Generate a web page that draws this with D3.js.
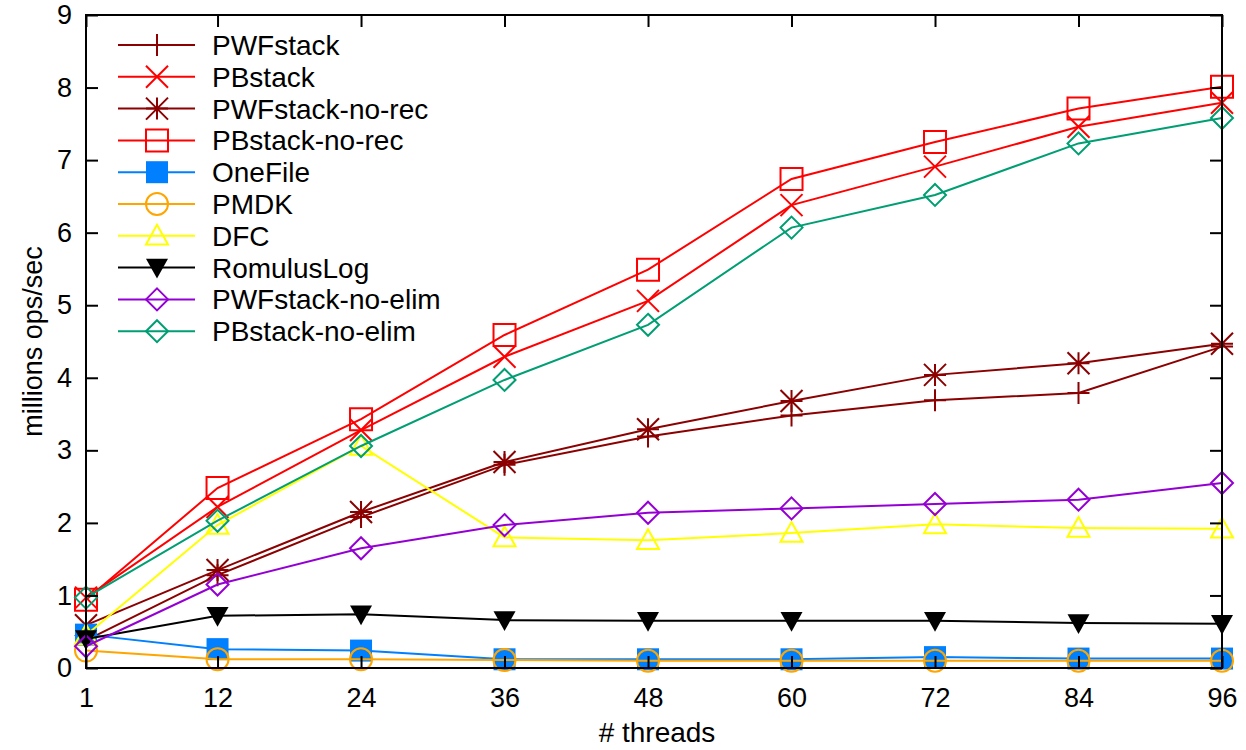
<!DOCTYPE html>
<html>
<head>
<meta charset="utf-8">
<script src="https://cdn.jsdelivr.net/npm/d3@7"></script>
<style>
  body { margin: 0; background: #fff; }
  text { font-family: "Liberation Sans", Arial, sans-serif; fill: #000; }
</style>
</head>
<body>
<svg id="chart" width="1246" height="750"></svg>
<script>
// thread counts on the x axis
const threads = [1, 12, 24, 36, 48, 60, 72, 84, 96];
const yTicks = [0, 1, 2, 3, 4, 5, 6, 7, 8, 9];

// millions ops/sec
const pwfstack       = [0.38, 1.28, 2.08, 2.80, 3.19, 3.48, 3.69, 3.79, 4.43];
const pbstack        = [0.97, 2.22, 3.28, 4.29, 5.06, 6.38, 6.91, 7.46, 7.79];
const pwfstackNoRec  = [0.59, 1.35, 2.15, 2.84, 3.29, 3.68, 4.04, 4.20, 4.47];
const pbstackNoRec   = [0.94, 2.48, 3.43, 4.59, 5.49, 6.74, 7.25, 7.71, 8.01];
const onefile        = [0.46, 0.26, 0.24, 0.12, 0.12, 0.12, 0.15, 0.13, 0.13];
const pmdk           = [0.24, 0.12, 0.12, 0.11, 0.10, 0.10, 0.10, 0.10, 0.10];
const dfc            = [0.45, 1.97, 3.06, 1.80, 1.76, 1.86, 1.98, 1.93, 1.92];
const romuluslog     = [0.40, 0.72, 0.74, 0.66, 0.65, 0.65, 0.65, 0.62, 0.61];
const pwfstackNoElim = [0.30, 1.15, 1.65, 1.97, 2.14, 2.20, 2.26, 2.32, 2.55];
const pbstackNoElim  = [0.97, 2.03, 3.06, 3.97, 4.73, 6.07, 6.52, 7.23, 7.58];

const series = [
  { name: "PWFstack",         values: pwfstack,       color: "#8b0000", mark: "plus" },
  { name: "PBstack",          values: pbstack,        color: "#ff0000", mark: "cross" },
  { name: "PWFstack-no-rec",  values: pwfstackNoRec,  color: "#8b0000", mark: "star" },
  { name: "PBstack-no-rec",   values: pbstackNoRec,   color: "#ff0000", mark: "square" },
  { name: "OneFile",          values: onefile,        color: "#0080ff", mark: "squareFill" },
  { name: "PMDK",             values: pmdk,           color: "#ffa500", mark: "circle" },
  { name: "DFC",              values: dfc,            color: "#ffff00", mark: "triangle" },
  { name: "RomulusLog",       values: romuluslog,     color: "#000000", mark: "triDownFill" },
  { name: "PWFstack-no-elim", values: pwfstackNoElim, color: "#9400d3", mark: "diamond" },
  { name: "PBstack-no-elim",  values: pbstackNoElim,  color: "#009e73", mark: "diamond" }
];

const svg = d3.select("#chart");
const mLeft = 86, mRight = 1222, mTop = 15, mBottom = 668;

const x = d3.scaleLinear().domain([1, 96]).range([mLeft, mRight]);
const y = d3.scaleLinear().domain([0, 9]).range([mBottom, mTop]);

// marker path, centred on 0,0, r = half size
function markPath(type, r) {
  const p = d3.path();
  if (type === "plus") {
    p.moveTo(-r, 0); p.lineTo(r, 0); p.moveTo(0, -r); p.lineTo(0, r);
  } else if (type === "cross") {
    p.moveTo(-r, -r); p.lineTo(r, r); p.moveTo(-r, r); p.lineTo(r, -r);
  } else if (type === "star") {
    p.moveTo(-r, 0); p.lineTo(r, 0); p.moveTo(0, -r); p.lineTo(0, r);
    p.moveTo(-r, -r); p.lineTo(r, r); p.moveTo(-r, r); p.lineTo(r, -r);
  } else if (type === "square" || type === "squareFill") {
    p.rect(-r, -r, 2 * r, 2 * r);
  } else if (type === "circle") {
    p.moveTo(r, 0); p.arc(0, 0, r, 0, 2 * Math.PI);
  } else if (type === "triangle") {
    p.moveTo(0, -r); p.lineTo(r, r * 0.8); p.lineTo(-r, r * 0.8); p.closePath();
  } else if (type === "triDownFill") {
    p.moveTo(0, r); p.lineTo(r, -r * 0.8); p.lineTo(-r, -r * 0.8); p.closePath();
  } else if (type === "diamond") {
    p.moveTo(0, -r); p.lineTo(r, 0); p.lineTo(0, r); p.lineTo(-r, 0); p.closePath();
  }
  return p.toString();
}

function drawMark(g, s, cx, cy) {
  const filled = s.mark === "squareFill" || s.mark === "triDownFill";
  g.append("path")
    .attr("d", markPath(s.mark, 11))
    .attr("transform", `translate(${cx},${cy})`)
    .attr("fill", filled ? s.color : "none")
    .attr("stroke", filled ? "none" : s.color)
    .attr("stroke-width", 2);
}

// series lines + markers
const line = d3.line().x((d, i) => x(threads[i])).y(d => y(d));
const plot = svg.append("g");
series.forEach(s => {
  const g = plot.append("g");
  g.append("path")
    .attr("d", line(s.values))
    .attr("fill", "none")
    .attr("stroke", s.color)
    .attr("stroke-width", 2);
  s.values.forEach((v, i) => drawMark(g, s, x(threads[i]), y(v)));
});

// legend
const leg = svg.append("g");
series.forEach((s, i) => {
  const ly = 45 + i * 31.8;
  leg.append("line")
    .attr("x1", 118).attr("x2", 195).attr("y1", ly).attr("y2", ly)
    .attr("stroke", s.color).attr("stroke-width", 2);
  drawMark(leg, s, 157, ly);
  leg.append("text")
    .attr("x", 212).attr("y", ly + 10)
    .attr("font-size", 28)
    .text(s.name);
});

// axes, ticks pointing inward on all four sides
const tick = 12;
svg.append("g")
  .attr("transform", `translate(0,${mBottom})`)
  .call(d3.axisBottom(x).tickValues(threads).tickSize(-tick).tickPadding(20))
  .call(g => g.select(".domain").remove());
svg.append("g")
  .attr("transform", `translate(0,${mTop})`)
  .call(d3.axisTop(x).tickValues(threads).tickSize(-tick).tickFormat(""))
  .call(g => g.select(".domain").remove());
svg.append("g")
  .attr("transform", `translate(${mLeft},0)`)
  .call(d3.axisLeft(y).tickValues(yTicks).tickSize(-tick).tickPadding(14))
  .call(g => g.select(".domain").remove());
svg.append("g")
  .attr("transform", `translate(${mRight},0)`)
  .call(d3.axisRight(y).tickValues(yTicks).tickSize(-tick).tickFormat(""))
  .call(g => g.select(".domain").remove());

svg.selectAll(".tick line").attr("stroke", "#000").attr("stroke-width", 2);
svg.selectAll(".tick text")
  .attr("font-family", "Liberation Sans, Arial, sans-serif")
  .attr("font-size", 27)
  .attr("fill", "#000");

svg.append("rect")
  .attr("x", mLeft).attr("y", mTop)
  .attr("width", mRight - mLeft).attr("height", mBottom - mTop)
  .attr("fill", "none").attr("stroke", "#000").attr("stroke-width", 2);

// axis titles
svg.append("text")
  .attr("x", 657).attr("y", 742)
  .attr("text-anchor", "middle")
  .attr("font-size", 28)
  .text("# threads");
svg.append("text")
  .attr("transform", `translate(42,${(mTop + mBottom) / 2}) rotate(-90)`)
  .attr("text-anchor", "middle")
  .attr("font-size", 27)
  .text("millions ops/sec");
</script>
</body>
</html>
